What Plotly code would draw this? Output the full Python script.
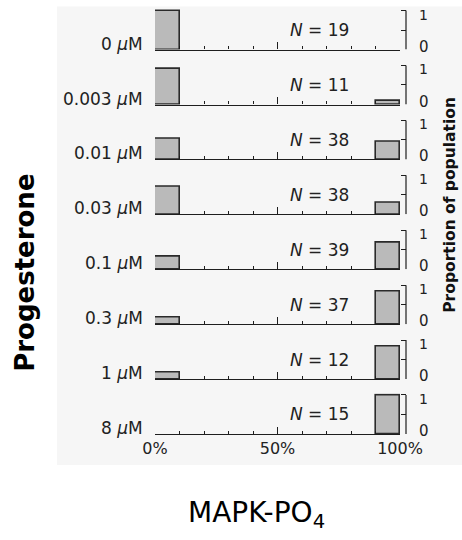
import plotly.graph_objects as go

# ---------------- data ----------------
concentrations = ["0", "0.003", "0.01", "0.03", "0.1", "0.3", "1", "8"]
n_cells = [19, 11, 38, 38, 39, 37, 12, 15]
bin_centers = [5, 95]          # 0-10 % and 90-100 % MAPK-PO4 bins
low_fraction = [1.0, 0.91, 0.53, 0.71, 0.33, 0.16, 0.17, 0.0]
high_fraction = [0.0, 0.09, 0.45, 0.29, 0.67, 0.84, 0.83, 1.0]
x_tick_vals = [0, 50, 100]
x_tick_text = ["0%", "50%", "100%"]
x_minor_vals = [10, 20, 30, 40, 60, 70, 80, 90]

# ---------------- layout constants ----------------
W, H = 462, 540
Y_TOP = 1.04                      # a little headroom so full bars are not clipped
first_base, last_base = 50, 434   # pixel baselines of first / last rows
unit_px = 39                      # pixels for proportion 1
dom_px = unit_px * Y_TOP
L, R = 155, 56
T = first_base - dom_px
B = H - last_base
plot_w = W - L - R
plot_h = H - T - B
xdom_end = 245 / plot_w
n_rows = len(concentrations)
pitch_px = (last_base - first_base) / (n_rows - 1)

FONT = "DejaVu Sans"
INK = "#1e1e1e"

fig = go.Figure()

def px_x(px):
    return (px - L) / plot_w

def px_y(py):
    return (H - B - py) / plot_h

def clamp(v):
    return min(1.0, max(0.0, round(v, 6)))

annotations = []
shapes = [dict(type="rect", xref="paper", yref="paper", layer="below",
               x0=px_x(57), x1=px_x(470), y0=px_y(465), y1=px_y(7),
               fillcolor="#f6f6f6", line=dict(width=0))]
for i in range(n_rows):
    k = "" if i == 0 else str(i + 1)
    base_px = first_base + i * pitch_px
    bottom = clamp(px_y(base_px))
    top = clamp(px_y(base_px - dom_px))
    vals = [low_fraction[i], high_fraction[i]]
    fig.add_trace(go.Bar(
        x=bin_centers,
        y=vals,
        width=10,
        marker=dict(color="#bababa",
                    line=dict(color="#2a2a2a", width=[1.6 if v > 0 else 0 for v in vals])),
        xaxis="x" + k, yaxis="y" + k, showlegend=False,
    ))
    last = i == n_rows - 1
    fig.layout["xaxis" + k] = dict(
        domain=[0, xdom_end], range=[0, 100], anchor="y" + k,
        showgrid=False, zeroline=False, showline=True, linecolor=INK, linewidth=1.3,
        ticks="inside", ticklen=7, tickwidth=1.2, tickcolor=INK,
        tickvals=x_tick_vals, ticktext=x_tick_text, showticklabels=last,
        tickfont=dict(family=FONT, size=16, color="#222"),
        minor=dict(tickvals=x_minor_vals, ticks="inside", ticklen=3, tickwidth=1.2, tickcolor=INK),
        fixedrange=True,
    )
    fig.layout["yaxis" + k] = dict(
        domain=[bottom, top], range=[0, Y_TOP], anchor="free", position=1.0, side="right",
        showgrid=False, zeroline=False, showline=False,
        ticks="inside", ticklen=5, tickwidth=1.2, tickcolor=INK,
        tickvals=[0, 0.5, 1], showticklabels=False, fixedrange=True,
    )
    # bracket spine from 0 to 1
    shapes.append(dict(type="line", xref="paper", x0=1, x1=1, yref="y" + k, y0=0, y1=1,
                       line=dict(color=INK, width=1.2)))
    # row label
    annotations.append(dict(
        text=concentrations[i] + " <i>μ</i>M", xref="paper", x=0, xanchor="right", xshift=-10,
        yref="y" + k, y=0, yanchor="middle", yshift=6, showarrow=False,
        font=dict(family=FONT, size=17, color="#222"),
    ))
    # N label
    annotations.append(dict(
        text="<i>N</i> = " + str(n_cells[i]), xref="x" + k, x=67, xanchor="center",
        yref="y" + k, y=0.5, yanchor="middle", showarrow=False,
        font=dict(family=FONT, size=17, color="#222"),
    ))
    # scale bracket labels
    annotations.append(dict(
        text="1", xref="paper", x=1, xanchor="left", xshift=11,
        yref="y" + k, y=1, yanchor="middle", yshift=-4, showarrow=False,
        font=dict(family=FONT, size=14, color="#222"),
    ))
    annotations.append(dict(
        text="0", xref="paper", x=1, xanchor="left", xshift=11,
        yref="y" + k, y=0, yanchor="middle", yshift=3, showarrow=False,
        font=dict(family=FONT, size=15, color="#222"),
    ))

annotations += [
    dict(text="<b>Progesterone</b>", xref="paper", yref="paper",
         x=px_x(25), y=px_y(273), xanchor="center", yanchor="middle", textangle=-90,
         showarrow=False, font=dict(family=FONT, size=26, color="#000")),
    dict(text="<b>Proportion of population</b>", xref="paper", yref="paper",
         x=px_x(450), y=px_y(205), xanchor="center", yanchor="middle", textangle=-90,
         showarrow=False, font=dict(family=FONT, size=15.5, color="#111")),
    dict(text="MAPK-PO<sub>4</sub>", xref="paper", yref="paper",
         x=px_x(256), y=px_y(514), xanchor="center", yanchor="middle",
         showarrow=False, font=dict(family=FONT, size=28, color="#000")),
]

fig.update_layout(
    width=W, height=H,
    margin=dict(l=L, r=R, t=T, b=B, pad=0),
    paper_bgcolor="white", plot_bgcolor="rgba(0,0,0,0)",
    bargap=0, showlegend=False,
    annotations=annotations,
    shapes=shapes,
)

fig.write_html("out.html")
